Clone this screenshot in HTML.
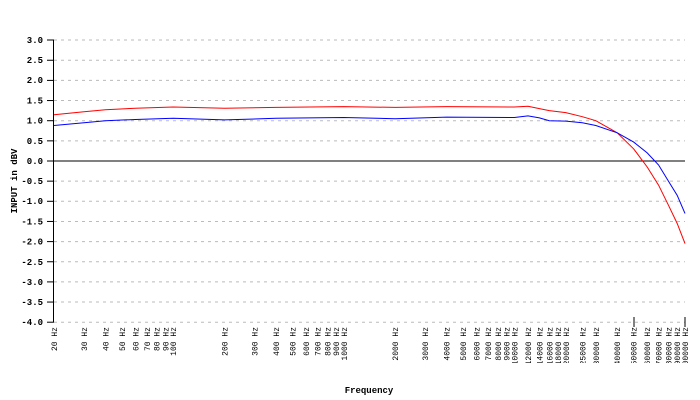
<!DOCTYPE html><html><head><style>body{margin:0;background:#fff}svg{display:block}text{font-family:"Liberation Mono",monospace;font-size:9px;fill:#000;font-weight:bold}.x text{font-size:8px;font-weight:normal}</style></head><body>
<svg width="700" height="400" xmlns="http://www.w3.org/2000/svg">
<defs><clipPath id="c"><rect x="0" y="320" width="700" height="43"/></clipPath></defs>
<g stroke="#bbb" stroke-dasharray="3,4">
<line x1="54" x2="685" y1="40" y2="40"/><line x1="54" x2="685" y1="60.25" y2="60.25"/><line x1="54" x2="685" y1="80.4" y2="80.4"/><line x1="54" x2="685" y1="100.55" y2="100.55"/><line x1="54" x2="685" y1="120.7" y2="120.7"/><line x1="54" x2="685" y1="140.85" y2="140.85"/><line x1="54" x2="685" y1="181.15" y2="181.15"/><line x1="54" x2="685" y1="201.3" y2="201.3"/><line x1="54" x2="685" y1="221.45" y2="221.45"/><line x1="54" x2="685" y1="241.6" y2="241.6"/><line x1="54" x2="685" y1="261.75" y2="261.75"/><line x1="54" x2="685" y1="281.9" y2="281.9"/><line x1="54" x2="685" y1="302.05" y2="302.05"/><line x1="54" x2="685" y1="322.2" y2="322.2"/>
</g>
<g stroke="#000">
<line x1="47" x2="54" y1="40" y2="40"/><line x1="47" x2="54" y1="60.25" y2="60.25"/><line x1="47" x2="54" y1="80.4" y2="80.4"/><line x1="47" x2="54" y1="100.55" y2="100.55"/><line x1="47" x2="54" y1="120.7" y2="120.7"/><line x1="47" x2="54" y1="140.85" y2="140.85"/><line x1="47" x2="54" y1="161" y2="161"/><line x1="47" x2="54" y1="181.15" y2="181.15"/><line x1="47" x2="54" y1="201.3" y2="201.3"/><line x1="47" x2="54" y1="221.45" y2="221.45"/><line x1="47" x2="54" y1="241.6" y2="241.6"/><line x1="47" x2="54" y1="261.75" y2="261.75"/><line x1="47" x2="54" y1="281.9" y2="281.9"/><line x1="47" x2="54" y1="302.05" y2="302.05"/><line x1="47" x2="54" y1="322.2" y2="322.2"/>
<line x1="53.5" x2="53.5" y1="40" y2="322"/><line x1="54" x2="685" y1="161" y2="161"/>
<line x1="634" x2="634" y1="317" y2="327"/><line x1="685" x2="685" y1="317" y2="327"/>
</g>
<g text-anchor="end">
<text x="43" y="43">3.0</text><text x="43" y="63">2.5</text><text x="43" y="83">2.0</text><text x="43" y="103.5">1.5</text><text x="43" y="123.5">1.0</text><text x="43" y="144">0.5</text><text x="43" y="164">0.0</text><text x="43" y="184">-0.5</text><text x="43" y="204">-1.0</text><text x="43" y="224.5">-1.5</text><text x="43" y="244.5">-2.0</text><text x="43" y="265">-2.5</text><text x="43" y="285">-3.0</text><text x="43" y="305">-3.5</text><text x="43" y="325">-4.0</text>
</g>
<g class="x" text-anchor="end" clip-path="url(#c)">
<text transform="translate(57,327) rotate(-90)">20 Hz</text>
<text transform="translate(87,327) rotate(-90)">30 Hz</text>
<text transform="translate(108.4,327) rotate(-90)">40 Hz</text>
<text transform="translate(124.9,327) rotate(-90)">50 Hz</text>
<text transform="translate(138.4,327) rotate(-90)">60 Hz</text>
<text transform="translate(149.8,327) rotate(-90)">70 Hz</text>
<text transform="translate(159.7,327) rotate(-90)">80 Hz</text>
<text transform="translate(168.4,327) rotate(-90)">90 Hz</text>
<text transform="translate(176.2,327) rotate(-90)">100 Hz</text>
<text transform="translate(227.6,327) rotate(-90)">200 Hz</text>
<text transform="translate(257.6,327) rotate(-90)">300 Hz</text>
<text transform="translate(279,327) rotate(-90)">400 Hz</text>
<text transform="translate(295.5,327) rotate(-90)">500 Hz</text>
<text transform="translate(309,327) rotate(-90)">600 Hz</text>
<text transform="translate(320.4,327) rotate(-90)">700 Hz</text>
<text transform="translate(330.3,327) rotate(-90)">800 Hz</text>
<text transform="translate(339,327) rotate(-90)">900 Hz</text>
<text transform="translate(346.8,327) rotate(-90)">1000 Hz</text>
<text transform="translate(398.2,327) rotate(-90)">2000 Hz</text>
<text transform="translate(428.2,327) rotate(-90)">3000 Hz</text>
<text transform="translate(449.6,327) rotate(-90)">4000 Hz</text>
<text transform="translate(466.1,327) rotate(-90)">5000 Hz</text>
<text transform="translate(479.6,327) rotate(-90)">6000 Hz</text>
<text transform="translate(491,327) rotate(-90)">7000 Hz</text>
<text transform="translate(500.9,327) rotate(-90)">8000 Hz</text>
<text transform="translate(509.6,327) rotate(-90)">9000 Hz</text>
<text transform="translate(517.4,327) rotate(-90)">10000 Hz</text>
<text transform="translate(531,327) rotate(-90)">12000 Hz</text>
<text transform="translate(542.4,327) rotate(-90)">14000 Hz</text>
<text transform="translate(552.3,327) rotate(-90)">16000 Hz</text>
<text transform="translate(561,327) rotate(-90)">18000 Hz</text>
<text transform="translate(568.8,327) rotate(-90)">20000 Hz</text>
<text transform="translate(585.3,327) rotate(-90)">25000 Hz</text>
<text transform="translate(598.8,327) rotate(-90)">30000 Hz</text>
<text transform="translate(620.2,327) rotate(-90)">40000 Hz</text>
<text transform="translate(636.7,327) rotate(-90)">50000 Hz</text>
<text transform="translate(650.2,327) rotate(-90)">60000 Hz</text>
<text transform="translate(661.6,327) rotate(-90)">70000 Hz</text>
<text transform="translate(671.5,327) rotate(-90)">80000 Hz</text>
<text transform="translate(680.2,327) rotate(-90)">90000 Hz</text>
<text transform="translate(688,327) rotate(-90)">100000 Hz</text>
</g>
<polyline fill="none" stroke="#f00" points="54,114.7 84,111.8 105.4,109.8 135.4,108.2 173.2,107 224.6,108.2 276,107.4 343.8,106.6 395.2,107.4 446.6,106.6 514.4,107 528,106.2 539.4,108.6 549.3,110.6 565.8,112.6 582.3,116.7 595.8,120.7 617.2,132.8 633.7,148.9 647.2,167 658.6,185.2 668.5,205.3 677.2,223.5 685,243.6"/>
<polyline fill="none" stroke="#00f" points="54,125.5 84,122.7 105.4,120.7 135.4,119.5 173.2,118.3 224.6,119.9 276,118.3 343.8,117.5 395.2,118.7 446.6,117.1 514.4,117.5 528,115.9 539.4,117.9 549.3,120.7 565.8,121.1 582.3,122.7 595.8,125.5 617.2,132.8 633.7,142.1 647.2,152.9 658.6,165 668.5,181.2 677.2,195.3 685,213.4"/>
<text x="369" y="393" text-anchor="middle" font-size="11">Frequency</text>
<text transform="translate(17,181) rotate(-90)" text-anchor="middle" font-size="11">INPUT in dBV</text>
</svg></body></html>
